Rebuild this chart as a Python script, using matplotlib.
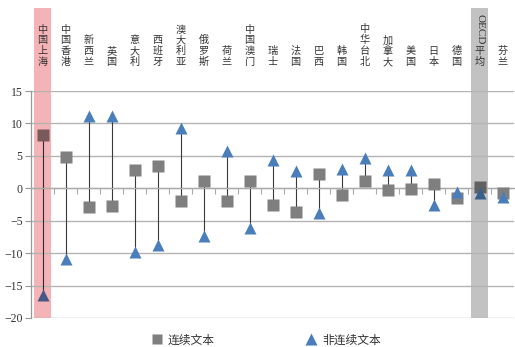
import matplotlib
matplotlib.use('Agg')
import numpy as np
import matplotlib.pyplot as plt
import matplotlib.colors as mcolors
from matplotlib.patches import Rectangle
from matplotlib.lines import Line2D
from matplotlib.transforms import blended_transform_factory

plt.rcParams['font.family'] = ['Noto Sans CJK SC', 'DejaVu Sans']

countries = ['中国上海', '中国香港', '新西兰', '英国', '意大利', '西班牙', '澳大利亚',
             '俄罗斯', '荷兰', '中国澳门', '瑞士', '法国', '巴西', '韩国', '中华台北',
             '加拿大', '美国', '日本', '德国', 'OECD平均', '芬兰']
continuous = [8.2, 4.9, -2.9, -2.7, 2.8, 3.4, -2.0, 1.2, -2.0, 1.2, -2.5,
              -3.7, 2.2, -1.1, 1.2, -0.2, -0.1, 0.6, -1.5, 0.2, -0.7]
noncontinuous = [-16.5, -10.9, 11.1, 11.1, -9.8, -8.7, 9.3, -7.3, 5.8, -6.2, 4.3,
                 2.7, -3.8, 3.0, 4.7, 2.8, 2.8, -2.6, -0.5, -0.7, -1.3]
series_names = ['连续文本', '非连续文本']
highlight = {'中国上海': '#f4b3b6', 'OECD平均': '#c2c2c2'}

sq_color = '#7f7f7f'
tri_color = '#4a7ebb'
stem_color = '#3a3a3a'


def multiply(c, band):
    # darken a colour as if seen through a tinted band
    a = np.array(mcolors.to_rgb(c))
    b = np.array(mcolors.to_rgb(band))
    return tuple(a * b)


W, H = 515, 347
fig = plt.figure(figsize=(W / 100, H / 100), dpi=100)
left, right, top, bottom = 31, 514, 91, 318
ax = fig.add_axes([left / W, 1 - bottom / H, (right - left) / W, (bottom - top) / H])

x = np.arange(len(countries))
ax.set_xlim(-0.5, len(countries) - 0.5)
ax.set_ylim(-20, 15)

# highlight bands reaching up through the label area
band_t = blended_transform_factory(ax.transData, fig.transFigure)
for name, col in highlight.items():
    i = countries.index(name)
    ax.add_patch(Rectangle((i - 0.36, 1 - bottom / H), 0.72, (bottom - 8) / H,
                           transform=band_t, facecolor=col, edgecolor='none',
                           zorder=0.1, clip_on=False))

for i, (c, n) in enumerate(zip(continuous, noncontinuous)):
    band = highlight.get(countries[i])
    sc = multiply(sq_color, band) if band else sq_color
    tc = multiply(tri_color, band) if band else tri_color
    lc = multiply(stem_color, band) if band else stem_color
    ax.plot([x[i], x[i]], [c, n], color=lc, lw=0.8, zorder=2)
    ax.plot(x[i], c, marker='s', ms=8.5, color=sc, mec='none', zorder=3)
    ax.plot(x[i], n, marker='^', ms=9, color=tc, mec='none', zorder=4)

# axes styling
ax.set_axisbelow(True)
ax.yaxis.grid(True, color='#b4b4b4', lw=1.0)
ax.set_yticks(np.arange(-20, 16, 5))
ax.set_yticklabels([str(v).replace('-', '−') for v in range(-20, 16, 5)],
                   family='Liberation Serif', fontsize=8.5, color='#333333')
ax.tick_params(axis='y', length=4, width=0.8, color='#999999', pad=2)
for s in ['top', 'right']:
    ax.spines[s].set_visible(False)
ax.spines['left'].set_color('#999999')
ax.spines['left'].set_linewidth(0.9)
ax.spines['bottom'].set_position(('data', 0))
ax.spines['bottom'].set_color('#aaaaaa')
ax.spines['bottom'].set_linewidth(0.9)
ax.set_xticks(np.arange(0.5, len(countries) - 0.5, 1))
ax.set_xticklabels([])
ax.tick_params(axis='x', direction='out', length=4, width=0.8, color='#aaaaaa')

# stacked vertical category labels above the plot
lbl_t = blended_transform_factory(ax.transData, fig.transFigure)
y_base = 1 - 67 / H
for i, name in enumerate(countries):
    if name.startswith('OECD'):
        ax.text(x[i], 1 - 14 / H, 'OECD', transform=lbl_t, rotation=-90,
                ha='center', va='top', fontsize=8, family='Liberation Serif',
                color='#333333')
        ax.text(x[i], y_base, '平\n均', transform=lbl_t, ha='center',
                va='bottom', fontsize=7.3, linespacing=1.1, color='#333333')
    else:
        ax.text(x[i], y_base, '\n'.join(name), transform=lbl_t, ha='center',
                va='bottom', fontsize=7.3, linespacing=1.1, color='#333333')

handles = [Line2D([], [], marker='s', ls='none', ms=7, color=sq_color, mec='none'),
           Line2D([], [], marker='^', ls='none', ms=8, color=tri_color, mec='none')]
fig.legend(handles, series_names, loc='center', bbox_to_anchor=(0.515, 1 - 340 / H),
           ncol=2, frameon=False, fontsize=8.5, handletextpad=0.3,
           columnspacing=7.6, handlelength=1.2, labelcolor='#333333')

fig.savefig('out.png', dpi=100)
